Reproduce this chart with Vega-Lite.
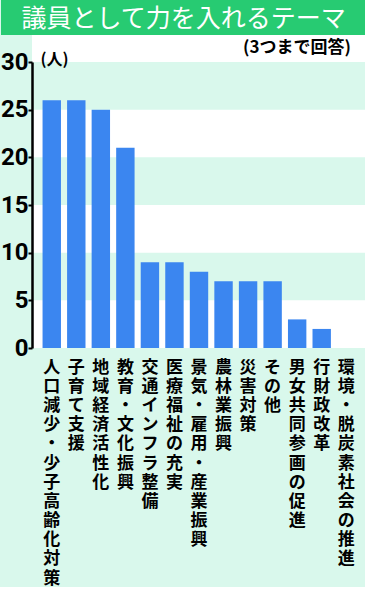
{
  "$schema": "https://vega.github.io/schema/vega-lite/v6.json",
  "background": "#d9f8ec",
  "padding": 0,
  "spacing": 0,
  "config": {"view": {"stroke": null}},
  "vconcat": [
    {
      "width": 334,
      "height": 35,
      "layer": [
        {
          "data": {"values": [{}]},
          "mark": {"type": "rect", "color": "#27cb72"},
          "encoding": {
            "x": {"datum": -31, "type": "quantitative", "scale": {"domain": [0, 334], "nice": false, "zero": false}, "axis": null},
            "x2": {"datum": 334}
          }
        },
        {
          "data": {"values": [{"t": "議員として力を入れるテーマ"}]},
          "mark": {"type": "text", "font": "Noto Sans CJK JP", "fontSize": 25, "color": "white", "baseline": "middle", "align": "center", "dy": 1},
          "encoding": {
            "x": {"datum": 151.5, "type": "quantitative"},
            "text": {"field": "t"}
          }
        }
      ]
    },
    {
      "width": 334,
      "height": 286,
      "view": {"fill": "white", "stroke": null},
      "layer": [
        {
          "data": {"values": [{"lo": 5, "hi": 10, "c": "m"}, {"lo": 15, "hi": 20, "c": "m"}, {"lo": 25, "hi": 30, "c": "m"}, {"lo": 30, "hi": 32.83, "c": "w"}]},
          "mark": {"type": "rect"},
          "encoding": {
            "y": {"field": "lo", "type": "quantitative"},
            "y2": {"field": "hi"},
            "color": {"field": "c", "type": "nominal", "scale": {"domain": ["m", "w"], "range": ["#d9f8ec", "#ffffff"]}, "legend": null}
          }
        },
        {
          "data": {"values": [
            {"theme": "人口減少・少子高齢化対策", "n": 26},
            {"theme": "子育て支援", "n": 26},
            {"theme": "地域経済活性化", "n": 25},
            {"theme": "教育・文化振興", "n": 21},
            {"theme": "交通インフラ整備", "n": 9},
            {"theme": "医療福祉の充実", "n": 9},
            {"theme": "景気・雇用・産業振興", "n": 8},
            {"theme": "農林業振興", "n": 7},
            {"theme": "災害対策", "n": 7},
            {"theme": "その他", "n": 7},
            {"theme": "男女共同参画の促進", "n": 3},
            {"theme": "行財政改革", "n": 2},
            {"theme": "環境・脱炭素社会の推進", "n": 0}
          ]},
          "mark": {"type": "bar", "color": "#3b86f0"},
          "encoding": {
            "x": {
              "field": "theme", "type": "nominal", "sort": null,
              "scale": {"paddingInner": 0.25, "paddingOuter": 0.43},
              "axis": {
                "title": null, "domain": false, "ticks": false, "labelAngle": 0,
                "labelAlign": "center", "labelBaseline": "top", "labelPadding": 11,
                "labelFont": "Noto Sans CJK JP", "labelFontWeight": "bold", "labelFontSize": 17,
                "labelLineHeight": 19.2, "labelColor": "black",
                "labelExpr": "split(datum.label, '')", "labelOverlap": false, "labelLimit": 0
              }
            },
            "y": {
              "field": "n", "type": "quantitative",
              "scale": {"domain": [0, 30], "nice": false},
              "axis": {
                "values": [0, 5, 10, 15, 20, 25, 30], "domain": true, "domainColor": "black", "domainWidth": 2.5,
                "grid": false, "zindex": 1,
                "tickSize": 4, "tickColor": "black", "tickWidth": 2,
                "labelFont": "Roboto", "labelFontWeight": "bold", "labelFontSize": 24,
                "labelColor": "black", "labelPadding": 0,
                "title": "(人)", "titleAngle": 0, "titleX": 8, "titleY": -3,
                "titleAlign": "left", "titleBaseline": "middle",
                "titleFont": "Noto Sans CJK JP", "titleFontWeight": "bold", "titleFontSize": 16, "titleColor": "black"
              }
            }
          }
        },
        {
          "data": {"values": [{"s": "(3つまで回答)"}]},
          "mark": {"type": "text", "font": "Noto Sans CJK JP", "fontWeight": "bold", "fontSize": 17, "align": "right", "baseline": "middle", "dx": -15, "color": "black"},
          "encoding": {
            "x": {"value": "width"},
            "y": {"datum": 31.5},
            "text": {"field": "s"}
          }
        }
      ]
    }
  ]
}
